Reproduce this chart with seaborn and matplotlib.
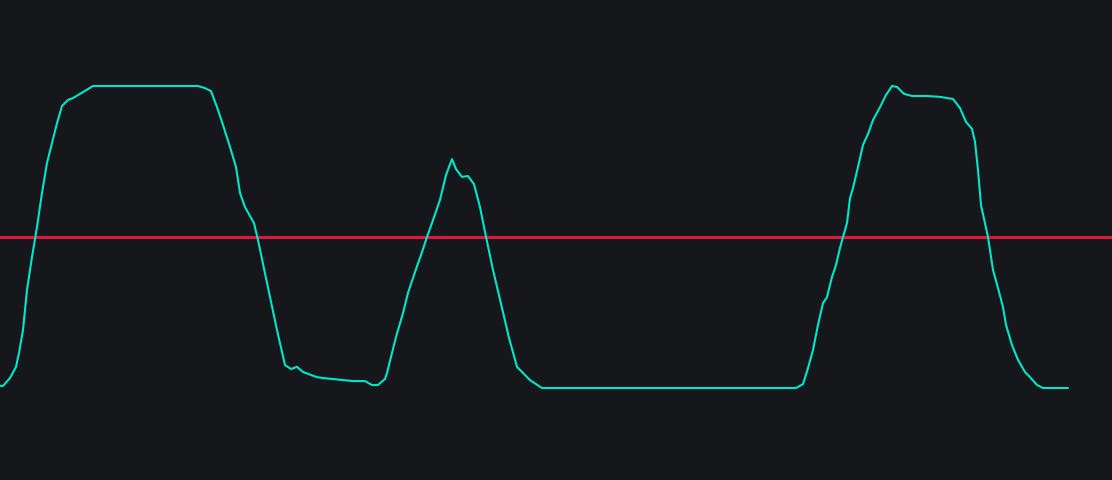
import numpy as np
import pandas as pd
import matplotlib
matplotlib.use("Agg")
import matplotlib.pyplot as plt
import seaborn as sns

# valeurs (temps, niveau en %)
t = [0.0, 0.3, 1.0, 1.6, 1.9, 2.3, 2.7, 3.2, 3.7, 4.2, 4.7, 5.1, 5.7, 6.2, 6.8,
     7.3, 8.3, 9.3, 14.3, 19.8, 20.5, 21.1, 21.7, 22.3, 23.0, 23.6, 24.0, 24.5,
     25.4, 25.8, 26.7, 27.7, 28.5, 29.1, 29.7, 30.3, 31.7, 32.3, 35.3, 36.5,
     37.2, 37.8, 38.5, 38.7, 39.1, 39.6, 40.3, 40.8, 41.5, 42.2, 42.7, 43.3,
     44.0, 44.6, 45.2, 45.6, 46.2, 46.8, 47.4, 48.0, 48.5, 49.3, 50.2, 50.9,
     51.7, 52.3, 53.0, 54.2, 79.6, 80.3, 80.8, 81.3, 81.8, 82.3, 82.7, 83.2,
     83.6, 84.0, 84.3, 84.7, 85.0, 85.3, 85.8, 86.3, 86.8, 87.3, 88.0, 88.6,
     89.2, 89.7, 90.4, 91.2, 92.7, 94.0, 95.3, 96.0, 96.6, 97.2, 97.5, 97.8,
     98.1, 98.8, 99.3, 99.8, 100.3, 100.6, 101.2, 101.8, 102.5, 103.0, 103.7,
     104.3, 106.8]
niveau = [0.7, 0.7, 3.3, 7.0, 11.6, 19.2, 32.5, 43.4, 53.3, 64.6, 74.5, 79.8,
          87.7, 93.4, 95.4, 96.0, 98.0, 100.0, 100.0, 100.0, 99.3, 98.3, 93.0,
          87.1, 79.8, 73.2, 64.6, 59.9, 54.6, 49.0, 34.8, 19.2, 7.6, 6.3, 7.0,
          5.3, 3.6, 3.3, 2.3, 2.3, 1.0, 1.0, 3.0, 5.0, 10.3, 16.9, 24.8, 31.5,
          38.4, 45.0, 50.0, 55.6, 62.3, 70.5, 75.8, 72.5, 69.9, 70.2, 67.5,
          59.9, 51.7, 39.1, 26.5, 16.6, 7.0, 5.0, 2.6, 0.0, 0.0, 1.3, 6.6, 12.6,
          20.9, 28.1, 30.1, 36.8, 40.7, 46.4, 50.0, 54.6, 62.9, 66.2, 73.2,
          80.5, 84.1, 88.7, 93.0, 97.0, 100.0, 99.7, 97.4, 96.7, 96.7, 96.4,
          95.7, 92.7, 88.1, 85.8, 81.5, 72.2, 60.6, 50.0, 39.1, 33.1, 26.8,
          20.9, 14.2, 9.3, 5.3, 3.6, 1.0, 0.0, 0.0]
seuil = 50

df = pd.DataFrame({"t": t, "niveau": niveau})

fond = "#16171b"
sns.set_theme(style="dark", rc={"axes.facecolor": fond, "figure.facecolor": fond})

fig = plt.figure(figsize=(11.12, 4.8), dpi=100)
ax = fig.add_axes([0, 0, 1, 1])
ax.axhline(seuil, color="#e0173c", lw=2.2)
sns.lineplot(data=df, x="t", y="niveau", ax=ax, color="#00e8cc", lw=1.5)

ax.set_xlim(0, 111.2)
ax.set_ylim(-30.46, 128.48)
ax.set_axis_off()

fig.savefig("out.png", dpi=100, facecolor=fond)
